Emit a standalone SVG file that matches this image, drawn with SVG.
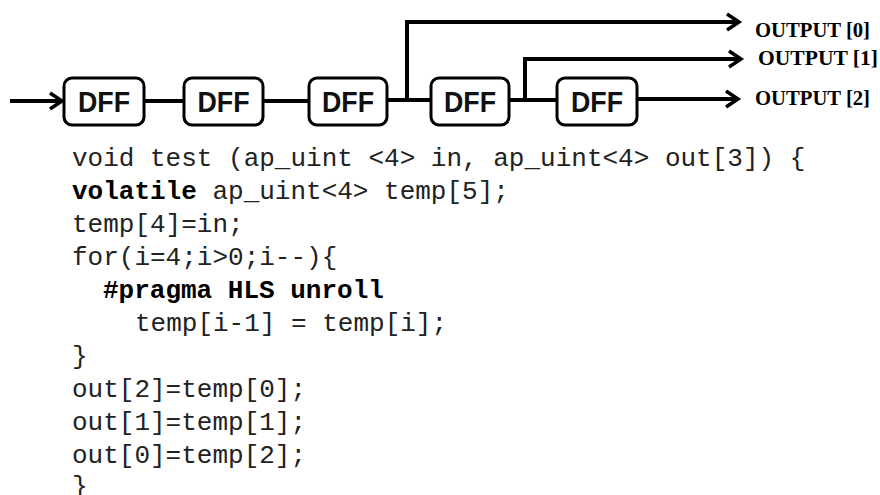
<svg xmlns="http://www.w3.org/2000/svg" width="880" height="495" viewBox="0 0 880 495">
<style>
.box{fill:#fff;stroke:#000;stroke-width:3}
.lbl{font-family:"Liberation Sans",Arial,sans-serif;font-weight:bold;font-size:29px;text-anchor:middle;fill:#111}
.wire{fill:none;stroke:#000;stroke-width:4;stroke-linejoin:miter}
.out{font-family:"Liberation Serif","Times New Roman",serif;font-weight:bold;font-size:22px;fill:#000}
.code{font-family:"Liberation Mono","Courier New",monospace;font-size:26px;fill:#222}
.b{font-weight:bold;fill:#000}
</style>
<defs>
<marker id="arr" markerUnits="userSpaceOnUse" markerWidth="20" markerHeight="22" refX="14" refY="10" orient="auto">
<path d="M2,2 L14,10 L2,18" fill="none" stroke="#000" stroke-width="3.5"/>
</marker>
</defs>
<g id="connectors">
<path class="wire" d="M10,101 L62,101" marker-end="url(#arr)"/>
<path class="wire" d="M144,101 L184,101"/>
<path class="wire" d="M263,101 L309,101"/>
<path class="wire" d="M387,100 L431,100"/>
<path class="wire" d="M509,100 L557,100"/>
<path class="wire" d="M407,100 L407,22 L739,22" marker-end="url(#arr)"/>
<path class="wire" d="M525,100 L525,59 L741,59" marker-end="url(#arr)"/>
<path class="wire" d="M637,99 L738,99" marker-end="url(#arr)"/>
</g>
<g id="dff1"><rect class="box" x="64" y="78" width="80" height="47" rx="8"/><text class="lbl" x="104" y="112" textLength="52" lengthAdjust="spacingAndGlyphs">DFF</text></g>
<g id="dff2"><rect class="box" x="184" y="78" width="79" height="47" rx="8"/><text class="lbl" x="223.5" y="112" textLength="52" lengthAdjust="spacingAndGlyphs">DFF</text></g>
<g id="dff3"><rect class="box" x="309" y="78" width="78" height="47" rx="8"/><text class="lbl" x="348" y="112" textLength="52" lengthAdjust="spacingAndGlyphs">DFF</text></g>
<g id="dff4"><rect class="box" x="431" y="78" width="78" height="47" rx="8"/><text class="lbl" x="470" y="112" textLength="52" lengthAdjust="spacingAndGlyphs">DFF</text></g>
<g id="dff5"><rect class="box" x="557" y="78" width="80" height="47" rx="8"/><text class="lbl" x="597" y="112" textLength="52" lengthAdjust="spacingAndGlyphs">DFF</text></g>
<g id="outputs">
<text class="out" x="755" y="37" textLength="115" lengthAdjust="spacingAndGlyphs">OUTPUT [0]</text>
<text class="out" x="758" y="65" textLength="120" lengthAdjust="spacingAndGlyphs">OUTPUT [1]</text>
<text class="out" x="755" y="105" textLength="115" lengthAdjust="spacingAndGlyphs">OUTPUT [2]</text>
</g>
<g id="code" class="code">
<text x="72" y="166">void test (ap_uint &lt;4&gt; in, ap_uint&lt;4&gt; out[3]) {</text>
<text x="72" y="199"><tspan class="b">volatile</tspan> ap_uint&lt;4&gt; temp[5];</text>
<text x="72" y="232">temp[4]=in;</text>
<text x="72" y="265">for(i=4;i&gt;0;i--){</text>
<text x="103" y="298" class="b">#pragma HLS unroll</text>
<text x="135" y="331">temp[i-1] = temp[i];</text>
<text x="72" y="364">}</text>
<text x="72" y="397">out[2]=temp[0];</text>
<text x="72" y="430">out[1]=temp[1];</text>
<text x="72" y="463">out[0]=temp[2];</text>
<text x="72" y="494">}</text>
</g>
</svg>
